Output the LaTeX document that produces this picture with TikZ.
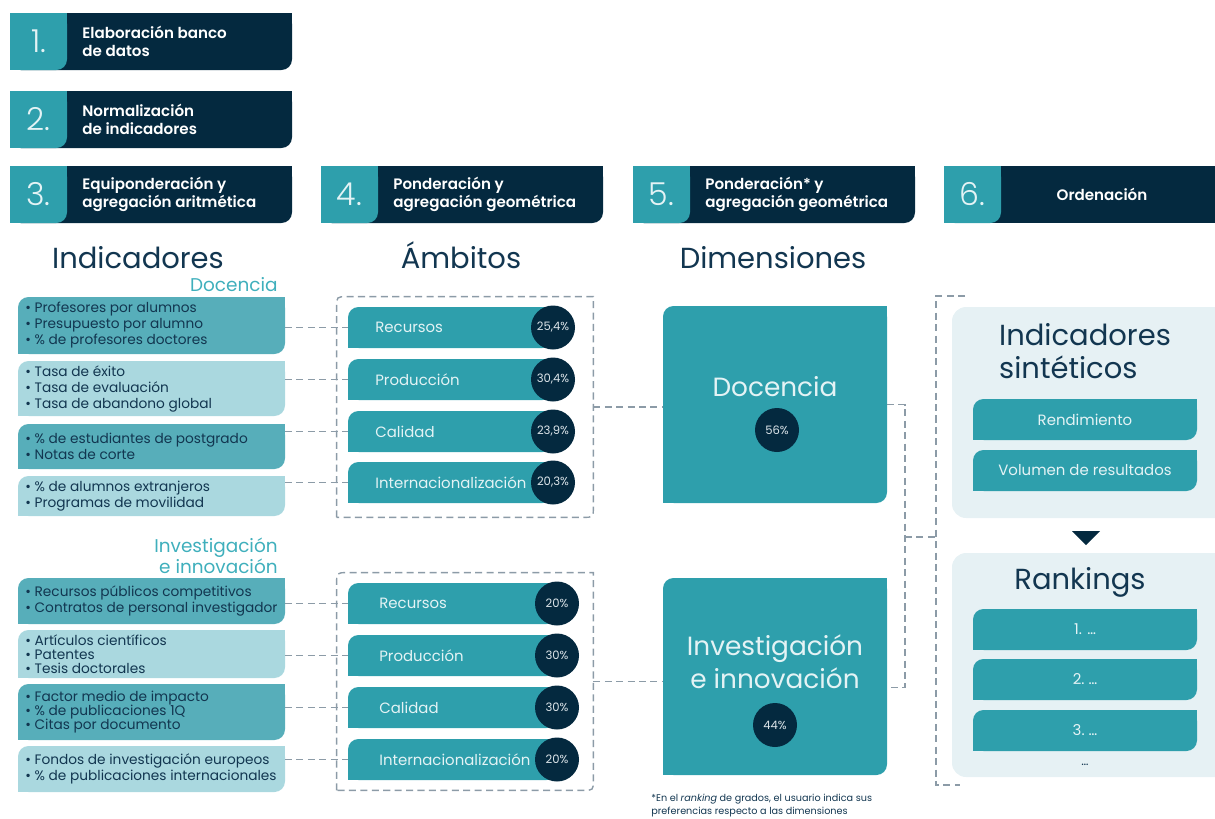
\documentclass[tikz,border=0pt]{standalone}
\usepackage{fontspec}
\setmainfont{Poppins}[BoldFont={Poppins SemiBold}]
\newfontfamily\thinfont{Poppins Light}
\usetikzlibrary{positioning,fit}

\definecolor{navy}{HTML}{04293F}
\definecolor{petrol}{HTML}{2E9FAC}
\definecolor{indA}{HTML}{57AEBA}
\definecolor{indB}{HTML}{AAD8DF}
\definecolor{ink}{HTML}{123650}
\definecolor{subteal}{HTML}{3FAFBC}
\definecolor{panel}{HTML}{E6F1F4}
\definecolor{dashgray}{HTML}{8C9BA7}
\definecolor{paletext}{HTML}{E4F3F5}
\definecolor{pcttext}{HTML}{DDE5EA}

\newcommand{\pxu}{0.02cm}
% dashed frame, rounded at top left and bottom right
\newcommand{\leafframe}[1]{%
  \draw[dashframe] (#1.south west) -- ([yshift=-6pt]#1.north west)
    .. controls (#1.north west) .. ([xshift=6pt]#1.north west) -- (#1.north east)
    -- ([yshift=6pt]#1.south east) .. controls (#1.south east) .. ([xshift=-6pt]#1.south east) -- cycle;}

\tikzset{
  leaf/.style={fill=#1, rounded corners=6pt, inner sep=0pt, outer sep=0pt,
    append after command={\pgfextra{%
      \fill[#1, sharp corners] (\tikzlastnode.north east) rectangle ++(-6pt,-6pt);
      \fill[#1, sharp corners] (\tikzlastnode.south west) rectangle ++(6pt,6pt);}}},
  tab/.style={leaf=#1, append after command={\pgfextra{%
      \fill[#1, sharp corners] (\tikzlastnode.north west) rectangle ++(6pt,-6pt);}}},
  numtab/.style={tab=petrol, anchor=north west, minimum width=57*\pxu, minimum height=57*\pxu,
    text=paletext, font=\thinfont\fontsize{18}{18}\selectfont},
  steptitle/.style={text=white, align=left, inner sep=0pt, font=\bfseries\fontsize{8.6}{10.2}\selectfont},
  heading/.style={text=ink, anchor=base, font=\fontsize{16.5}{18.7}\selectfont},
  subtitle/.style={text=subteal, inner sep=0pt, font=\fontsize{10.5}{10.2}\selectfont},
  indbox/.style={anchor=north west, minimum width=267*\pxu},
  indtext/.style={text=ink, align=left, inner sep=0pt},
  bar/.style={leaf=petrol, anchor=north west, minimum height=41*\pxu},
  barlabel/.style={text=paletext, inner sep=0pt, font=\fontsize{8.5}{10}\selectfont},
  pct/.style={circle, fill=navy, minimum size=44*\pxu, inner sep=0pt, text=pcttext,
    font=\fontsize{6.6}{7}\selectfont},
  dashframe/.style={draw=dashgray, line width=0.8pt, dash pattern=on 4pt off 2.5pt},
  conn/.style={dashframe},
  dimbox/.style={leaf=petrol, anchor=north west, minimum width=224*\pxu, minimum height=197*\pxu},
  dimtext/.style={text=paletext, align=center, font=\fontsize{15}{18.7}\selectfont},
  panelbox/.style={fill=panel, rounded corners=8pt, inner sep=0pt},
  subbox/.style={leaf=petrol, anchor=north west, minimum width=224*\pxu, minimum height=41*\pxu,
    text=paletext, font=\fontsize{8.5}{10}\selectfont},
}

\begin{document}
\begin{tikzpicture}[x=\pxu, y=-\pxu]
  \useasboundingbox (0,0) rectangle (1215,819);
  \clip (0,0) rectangle (1215,819);

  % steps 1 to 5
  \foreach \k/\hx/\hy/\tx in {1/10/13/{Elaboración banco\\de datos},
      2/10/91/{Normalización\\de indicadores},
      3/10/166/{Equiponderación y\\agregación aritmética},
      4/321/166/{Ponderación y\\agregación geométrica},
      5/633/166/{Ponderación* y\\agregación geométrica}}{
    \node[tab=navy, anchor=north west, minimum width=282*\pxu, minimum height=57*\pxu] (h\k) at (\hx,\hy) {};
    \node[numtab] (n\k) at (h\k.north west) {\k.};
    \node[steptitle, right=0.3cm of n\k] (t\k) {\tx};
  }
  % step 6, cut at the right edge
  \node[fill=navy, anchor=north west, minimum width=280*\pxu, minimum height=57*\pxu, inner sep=0pt] (h6) at (944,166) {};
  \node[numtab] (n6) at (h6.north west) {6.};
  \node[steptitle] (t6) at (1102,194) {Ordenación};

  % column titles
  \node[heading] (hInd) at (138,268) {Indicadores};
  \node[heading] (hAmb) at (461,268) {Ámbitos};
  \node[heading] (hDim) at (773,268) {Dimensiones};
  \node[subtitle, anchor=east] (sDoc) at (278,285) {Docencia};
  \node[subtitle, anchor=east, align=right] (sInv) at (278,556) {Investigación\\e innovación};

  % indicators
  \foreach \k/\ty/\th/\tc/\bs/\tx in {
      1/297/57/indA/9.1/{\textbullet\ Profesores por alumnos\\\textbullet\ Presupuesto por alumno\\\textbullet\ \% de profesores doctores},
      2/361/55/indB/9.1/{\textbullet\ Tasa de éxito\\\textbullet\ Tasa de evaluación\\\textbullet\ Tasa de abandono global},
      3/424/45/indA/9.1/{\textbullet\ \% de estudiantes de postgrado\\\textbullet\ Notas de corte},
      4/476/40/indB/9.1/{\textbullet\ \% de alumnos extranjeros\\\textbullet\ Programas de movilidad},
      5/578/46/indA/9.1/{\textbullet\ Recursos públicos competitivos\\\textbullet\ Contratos de personal investigador},
      6/630/48/indB/8/{\textbullet\ Artículos científicos\\\textbullet\ Patentes\\\textbullet\ Tesis doctorales},
      7/684/56/indA/8.2/{\textbullet\ Factor medio de impacto\\\textbullet\ \% de publicaciones 1Q\\\textbullet\ Citas por documento},
      8/746/46/indB/9.1/{\textbullet\ Fondos de investigación europeos\\\textbullet\ \% de publicaciones internacionales}}{
    \node[leaf=\tc, indbox, minimum height=\th*\pxu] (i\k) at (18,\ty) {};
    \node[indtext, font=\fontsize{7.8}{\bs}\selectfont, right=0.14cm of i\k.west] (it\k) {\tx};
  }

  % ambitos
  \foreach \k/\ty/\tx/\tp in {1/307/Recursos/{25,4\%}, 2/359/Producción/{30,4\%},
      3/411/Calidad/{23,9\%}, 4/462/Internacionalización/{20,3\%}}{
    \node[bar, minimum width=205*\pxu] (a\k) at (348,\ty) {};
    \node[barlabel, right=0.54cm of a\k.west] (al\k) {\tx};
    \node[pct] (ap\k) at (a\k.east) {\tp};
    \draw[conn] (a\k.west -| i\k.east) -- (a\k.west);
  }
  \foreach \k/\j/\ty/\tx/\tp in {1/5/583/Recursos/20\%, 2/6/635/Producción/30\%,
      3/7/687/Calidad/30\%, 4/8/739/Internacionalización/20\%}{
    \node[bar, minimum width=209*\pxu] (b\k) at (348,\ty) {};
    \node[barlabel, right=0.62cm of b\k.west] (bl\k) {\tx};
    \node[pct] (bp\k) at (b\k.east) {\tp};
    \draw[conn] (b\k.west -| i\j.east) -- (b\k.west);
  }
  \node[fit={(337,297) (593,517)}, inner sep=0pt] (f1) {};
  \node[fit={(337,573) (593,790)}, inner sep=0pt] (f2) {};
  \leafframe{f1}
  \leafframe{f2}

  % dimensions
  \node[dimbox] (d1) at (663,306) {};
  \node[dimtext] (dt1) at (775,387) {Docencia};
  \node[pct] (dp1) at (777,430) {56\%};
  \node[dimbox] (d2) at (663,578) {};
  \node[dimtext] (dt2) at (775,662) {Investigación\\e innovación};
  \node[pct] (dp2) at (775,725) {44\%};
  \draw[conn] (f1.east) -- (f1.east -| d1.west);
  \draw[conn] (f2.east) -- (f2.east -| d2.west);

  \coordinate (jn) at (905,537);
  \coordinate (rtop) at (936,296);
  \coordinate (rbot) at (936,785);
  \draw[conn] (d1.east) -| (jn) |- ([yshift=-0.22cm]d2.east);
  \draw[conn] (jn) -- (jn -| rtop);
  \draw[conn] ([xshift=0.58cm]rtop) -- (rtop) -- (rbot) -- ([xshift=0.48cm]rbot);

  % synthetic indicators and rankings
  \node[panelbox, fit={(952,307) (1235,518)}] (s1) {};
  \node[text=ink, align=left, anchor=west, font=\fontsize{16.5}{18.7}\selectfont] (s1t) at (993,351) {Indicadores\\sintéticos};
  \node[subbox] (r1) at (973,399) {Rendimiento};
  \node[subbox] (r2) at (973,450) {Volumen de resultados};
  \fill[navy] (1072,531) -- (1100,531) -- (1086,545) -- cycle;
  \node[panelbox, fit={(952,553) (1235,777)}] (s2) {};
  \node[text=ink, font=\fontsize{16.5}{18.7}\selectfont] (s2t) at (1080,582) {Rankings};
  \node[subbox] (k1) at (973,609) {1. …};
  \node[subbox] (k2) at (973,659) {2.\ …};
  \node[subbox] (k3) at (973,710) {3.\ …};
  \node[text=ink, font=\fontsize{7}{8}\selectfont] (k4) at (1085,765) {…};

  % footnote
  \node[text=ink, align=left, anchor=west, inner sep=0pt, font=\fontsize{5.5}{7.4}\selectfont] (fn) at (651,806)
    {*En el \textit{ranking} de grados, el usuario indica sus\\preferencias respecto a las dimensiones};
\end{tikzpicture}
\end{document}
